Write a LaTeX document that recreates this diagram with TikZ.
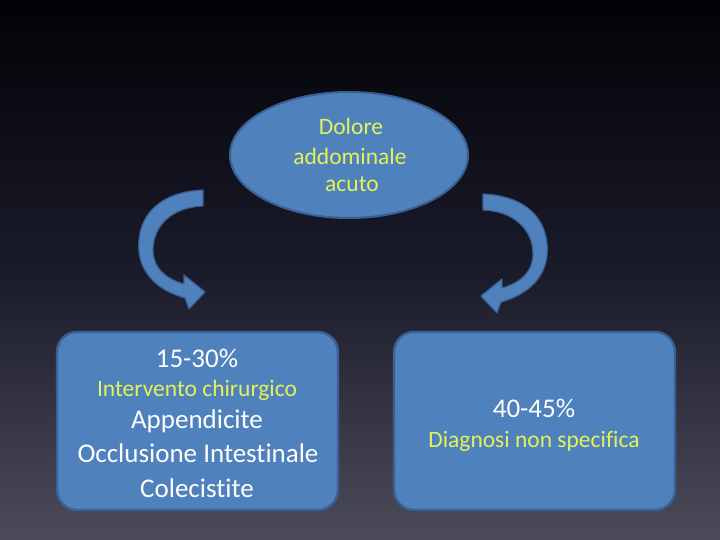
\documentclass[tikz,border=0pt]{standalone}
\usepackage{fontspec}
\setmainfont[Ligatures=NoCommon]{Carlito}
\definecolor{boxfill}{HTML}{4F81BD}
\definecolor{boxline}{HTML}{3A6093}
\definecolor{ytext}{HTML}{E4F25A}
\definecolor{bgtop}{HTML}{020206}
\definecolor{bgmid}{HTML}{1A1B2A}
\definecolor{bgbot}{HTML}{4C4B5A}
\tikzset{
  roundbox/.style={draw=boxline, line width=2.4pt, fill=boxfill, rounded corners=20pt},
  bigtxt/.style={anchor=base, text=white, font=\fontsize{27}{32}\selectfont, inner sep=0pt},
  ytxt/.style={anchor=base, text=ytext, font=\fontsize{23.5}{28}\selectfont, inner sep=0pt},
  elltxt/.style={anchor=base, text=ytext, font=\fontsize{23.5}{28}\selectfont, inner sep=0pt},
  curvearrow/.style={fill=boxfill, draw=boxline, line width=1.2pt, line join=round}
}
\begin{document}
\begin{tikzpicture}[x=1pt,y=-1pt]
\useasboundingbox (0,0) rectangle (720,540);
\shade[top color=bgtop, bottom color=bgbot, middle color=bgmid] (0,0) rectangle (720,540);

% ellipse
\draw[fill=boxfill, draw=boxline, line width=2pt] (349,155) ellipse [x radius=119, y radius=63];
\node[elltxt] (e1) at (351,135) {Dolore};
\node[elltxt] (e2) at (350,164.5) {addominale};
\node[elltxt] (e3) at (352,192) {acuto};

% left box
\draw[roundbox] (57,332) rectangle (338,510);
\node[bigtxt] (l1) at (197,367) {15-30\%};
\node[ytxt] (l2) at (197,396) {Intervento chirurgico};
\node[bigtxt] (l3) at (197,428) {Appendicite};
\node[bigtxt] (l4) at (198,462) {Occlusione Intestinale};
\node[bigtxt] (l5) at (197,497) {Colecistite};

% right box
\draw[roundbox] (394,332) rectangle (675,510);
\node[bigtxt] (r1) at (534,417) {40-45\%};
\node[ytxt] (r2) at (534,447) {Diagnosi non specifica};

% left curved arrow
\draw[curvearrow] (203,190) .. controls (160,192) and (136,215) .. (139,252)
   .. controls (142,276) and (160,291) .. (185,298) -- (189,309) -- (205,292) -- (184,275) -- (184,284)
   .. controls (166,279) and (153,268) .. (153,250)
   .. controls (153,226) and (172,207) .. (203,206) -- cycle;

% right curved arrow (mirrored)
\begin{scope}[xshift=686pt, yshift=-4pt, xscale=-1]
\draw[curvearrow] (203,190) .. controls (160,192) and (136,215) .. (139,252)
   .. controls (142,276) and (160,291) .. (185,298) -- (189,309) -- (205,292) -- (184,275) -- (184,284)
   .. controls (166,279) and (153,268) .. (153,250)
   .. controls (153,226) and (172,207) .. (203,206) -- cycle;
\end{scope}
\end{tikzpicture}
\end{document}
